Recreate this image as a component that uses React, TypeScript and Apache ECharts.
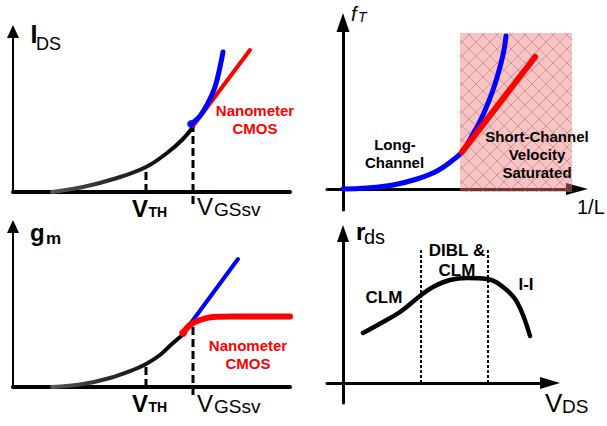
import React, { useEffect, useRef } from "react";
import * as echarts from "echarts";

// Panel 1: I_DS vs V_GS (units: arbitrary, origin at axes crossing)
const idsBlack = [[3.9, 0], [7.0, 0.5], [10.4, 1.4], [13.3, 2.5], [15.4, 3.9], [16.9, 5.2], [18.0, 6.5]];
const idsBlue = [[17.8, 6.8], [18.7, 7.6], [19.5, 8.9], [20.2, 10.5], [20.7, 12.5], [21.0, 14.0]];
const idsRed = [[18.0, 6.6], [23.7, 14.2]];
const idsVth = [[13.3, 0], [13.3, 2.5]];
const idsVgs = [[18.0, -1.2], [18.0, 6.5]];

// Panel 2: fT vs 1/L
const ftBlue = [[0, 0], [2.4, 0.1], [5.0, 0.4], [7.4, 1.0], [9.4, 1.8], [11.0, 2.9], [11.9, 3.7], [13.0, 5.5], [14.0, 7.4], [15.0, 9.9], [15.7, 12.2], [16.1, 13.9], [16.3, 15.3]];
const ftRed = [[11.9, 3.7], [19.2, 13.2]];
const shortRegion = [11.7, 22.9, -0.3, 15.6]; // x0, x1, y0, y1

// Panel 3: gm vs V_GS
const gmBlack = [[3.9, 0], [7.0, 0.3], [9.7, 0.9], [12.0, 1.7], [13.3, 2.3], [14.7, 3.2], [16.0, 4.4], [17.2, 5.4]];
const gmBlue = [[17.2, 5.6], [22.5, 12.8]];
const gmRed = [[17.0, 5.4], [17.7, 6.2], [18.7, 6.7], [20.0, 7.0], [22.0, 7.05], [27.7, 7.05]];
const gmVth = [[13.3, 0], [13.3, 2.3]];
const gmVgs = [[18.0, -0.8], [18.0, 6.4]];

// Panel 4: rds vs V_DS
const rdsCurve = [[2.0, 5.0], [4.0, 6.1], [5.7, 7.1], [7.7, 8.7], [9.0, 9.6], [10.7, 10.3], [12.4, 10.5], [14.4, 10.4], [16.0, 9.6], [17.4, 8.1], [18.7, 4.7]];
const rdsDiv1 = [[7.8, 0], [7.8, 13.4]];
const rdsDiv2 = [[14.5, 0], [14.5, 13.4]];

const FONT = "'Liberation Sans', Arial, Helvetica, sans-serif";

function makePattern(): string {
  const c = document.createElement("canvas");
  c.width = 14;
  c.height = 14;
  const ctx = c.getContext("2d");
  if (ctx) {
    ctx.fillStyle = "rgba(244,120,120,0.45)";
    ctx.fillRect(0, 0, 14, 14);
    ctx.strokeStyle = "rgba(130,110,110,0.45)";
    ctx.lineWidth = 1;
    ctx.beginPath();
    ctx.moveTo(0, 0);
    ctx.lineTo(14, 14);
    ctx.moveTo(14, 0);
    ctx.lineTo(0, 14);
    ctx.stroke();
  }
  return c.toDataURL();
}

function txt(text: string, x: number, y: number, size: number, opts: any = {}) {
  return {
    type: "text",
    x,
    y,
    silent: true,
    style: {
      text,
      fill: opts.color || "#000",
      font: `${opts.italic ? "italic " : ""}${opts.bold ? "bold " : ""}${size}px ${FONT}`,
      align: opts.align || "left",
      verticalAlign: "middle",
    },
  };
}

export default function App() {
  const ref = useRef<HTMLDivElement>(null);
  useEffect(() => {
    if (!ref.current) return;
    const chart = echarts.init(ref.current, undefined, { renderer: "svg" });

    const axisCommon = {
      type: "value",
      axisTick: { show: false },
      axisLabel: { show: false },
      splitLine: { show: false },
    };
    const xAx = (gi: number, min: number, max: number, width: number, arrow: number[] | null) => ({
      ...axisCommon,
      gridIndex: gi,
      min,
      max,
      axisLine: {
        show: true,
        onZero: true,
        symbol: arrow ? ["none", "triangle"] : ["none", "none"],
        symbolSize: arrow || [10, 10],
        lineStyle: { color: "#000", width },
      },
    });
    const yAx = (gi: number, min: number, max: number, width: number, arrow: number[]) => ({
      ...axisCommon,
      gridIndex: gi,
      min,
      max,
      axisLine: {
        show: true,
        onZero: true,
        symbol: ["none", "triangle"],
        symbolSize: arrow,
        lineStyle: { color: "#000", width },
      },
    });

    const blackGrad = {
      type: "linear", x: 0, y: 0, x2: 1, y2: 0,
      colorStops: [
        { offset: 0, color: "#555" },
        { offset: 0.5, color: "#222" },
        { offset: 1, color: "#000" },
      ],
    };

    const line = (gi: number, data: number[][], color: any, width: number, extra: any = {}) => ({
      type: "line",
      xAxisIndex: gi,
      yAxisIndex: gi,
      data,
      smooth: extra.smooth ?? 0.4,
      showSymbol: false,
      symbol: "none",
      clip: false,
      z: extra.z ?? 2,
      lineStyle: { color, width, cap: "round", join: "round", type: extra.type || "solid" },
      silent: true,
    });

    const dash = (gi: number, data: number[][], width: number, type: number[]) => ({
      type: "line",
      xAxisIndex: gi,
      yAxisIndex: gi,
      data,
      showSymbol: false,
      symbol: "none",
      clip: false,
      z: 1,
      lineStyle: { color: "#000", width, type, cap: "butt" },
      silent: true,
    });

    const dot = (gi: number, p: number[], color: string, size: number) => ({
      type: "scatter",
      xAxisIndex: gi,
      yAxisIndex: gi,
      data: [p],
      symbolSize: size,
      itemStyle: { color },
      z: 3,
      silent: true,
    });

    const patternUrl = makePattern();

    chart.setOption({
      animation: false,
      backgroundColor: "#fff",
      grid: [
        { left: 13, right: 317, top: 31.5, bottom: 234 },
        { left: 327, right: 30, top: 22.5, bottom: 216 },
        { left: 13, right: 317, top: 226.5, bottom: 39 },
        { left: 327, right: 57, top: 233.5, bottom: 23 },
      ],
      xAxis: [
        xAx(0, 0, 27.7, 4, null),
        xAx(1, -1.6, 23.4, 3, [12, 22]),
        xAx(2, 0, 27.7, 4, null),
        xAx(3, -1.6, 20.7, 3, [12, 20]),
      ],
      yAxis: [
        yAx(0, 0, 16.05, 2, [12, 13]),
        yAx(1, -2.1, 16.65, 3, [13, 19]),
        yAx(2, 0, 16.05, 2, [12, 13]),
        yAx(3, -2.0, 14.95, 3, [12, 17]),
      ],
      series: [
        // Panel 1
        dash(0, idsVth, 3, [8, 4]),
        dash(0, idsVgs, 3, [8, 4]),
        line(0, idsBlack, blackGrad, 4),
        line(0, idsRed, "#ff0000", 4, { smooth: false }),
        line(0, idsBlue, "#0000ff", 5, { z: 3 }),
        dot(0, idsBlue[0], "#0000ff", 8),
        // Panel 2
        line(1, ftBlue, "#0000ff", 5),
        line(1, ftRed, "#ff0000", 6, { smooth: false, z: 3 }),
        {
          type: "line",
          xAxisIndex: 1,
          yAxisIndex: 1,
          data: [],
          z: 10,
          silent: true,
          markArea: {
            silent: true,
            itemStyle: { color: { image: patternUrl, repeat: "repeat" } },
            data: [[
              { xAxis: shortRegion[0], yAxis: shortRegion[2] },
              { xAxis: shortRegion[1], yAxis: shortRegion[3] },
            ]],
          },
        },
        // Panel 3
        dash(2, gmVth, 3, [8, 4]),
        dash(2, gmVgs, 3, [8, 4]),
        line(2, gmBlack, blackGrad, 4),
        line(2, gmBlue, "#0000ff", 4, { smooth: false }),
        line(2, gmRed, "#ff0000", 6, { z: 3 }),
        dot(2, gmRed[0], "#ff0000", 8),
        // Panel 4
        dash(3, rdsDiv1, 2, [3, 2]),
        dash(3, rdsDiv2, 2, [3, 2]),
        line(3, rdsCurve, "#000", 4.5),
      ],
      graphic: [
        // Panel 1 labels
        txt("I", 30.5, 34.3, 25, { bold: true }),
        txt("DS", 36, 44.1, 18),
        txt("V", 132, 208.7, 24, { bold: true }),
        txt("TH", 148.5, 212.1, 14, { bold: true }),
        txt("V", 197, 206.7, 24),
        txt("GSsv", 214, 209.5, 19),
        txt("Nanometer", 255, 110, 15, { bold: true, color: "#ff0000", align: "center" }),
        txt("CMOS", 255, 128, 15, { bold: true, color: "#ff0000", align: "center" }),
        // Panel 2 labels
        txt("f", 351, 13.5, 20, { italic: true }),
        txt("T", 358, 16.5, 14, { italic: true }),
        txt("1/L", 577, 206.5, 20),
        txt("Long-", 395, 144, 15, { bold: true, align: "center" }),
        txt("Channel", 394.5, 162, 15, { bold: true, align: "center" }),
        { ...txt("Short-Channel", 537, 136, 15, { bold: true, align: "center" }), z: 20 },
        { ...txt("Velocity", 537, 154, 15, { bold: true, align: "center" }), z: 20 },
        { ...txt("Saturated", 537, 172, 15, { bold: true, align: "center" }), z: 20 },
        // Panel 3 labels
        txt("g", 30, 232.2, 24, { bold: true }),
        txt("m", 46, 238, 17, { bold: true }),
        txt("V", 132, 403.7, 24, { bold: true }),
        txt("TH", 148.5, 407.1, 14, { bold: true }),
        txt("V", 197, 403.7, 24),
        txt("GSsv", 214, 406.5, 19),
        txt("Nanometer", 248, 345, 15, { bold: true, color: "#ff0000", align: "center" }),
        txt("CMOS", 248, 363, 15, { bold: true, color: "#ff0000", align: "center" }),
        // Panel 4 labels
        txt("r", 356, 231.7, 24, { bold: true }),
        txt("ds", 364, 236.8, 20),
        txt("V", 545, 403, 26),
        txt("DS", 562, 406.5, 19),
        txt("DIBL &", 457, 250, 17, { bold: true, align: "center" }),
        txt("CLM", 457, 270, 17, { bold: true, align: "center" }),
        txt("CLM", 384, 297, 17, { bold: true, align: "center" }),
        txt("I-I", 526, 284, 17, { bold: true, align: "center" }),
      ],
    });
    return () => chart.dispose();
  }, []);
  return <div ref={ref} style={{ width: 607, height: 426, position: "absolute", left: 0, top: 0 }} />;
}
